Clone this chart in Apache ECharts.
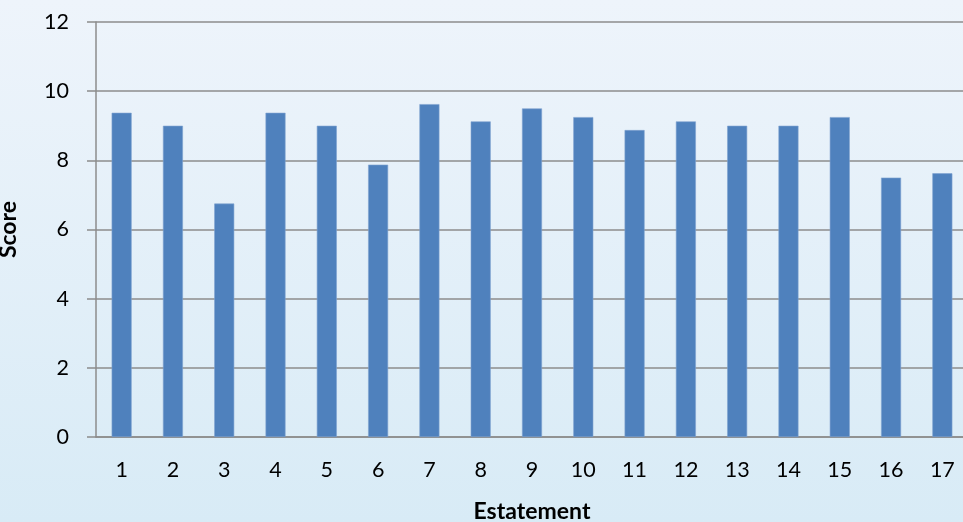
<!DOCTYPE html>
<html><head><meta charset="utf-8">
<script src="https://cdn.jsdelivr.net/npm/echarts@6/dist/echarts.min.js"></script>
<style>html,body{margin:0;padding:0;}#c{width:963px;height:522px;}</style>
</head><body><div id="c"></div>
<script>
const categories = ['1','2','3','4','5','6','7','8','9','10','11','12','13','14','15','16','17'];
const scores = [9.375, 9, 6.75, 9.375, 9, 7.875, 9.625, 9.125, 9.5, 9.25, 8.875, 9.125, 9, 9, 9.25, 7.5, 7.625];
const yTicks = [0, 2, 4, 6, 8, 10, 12];
const xTitle = 'Estatement';
const yTitle = 'Score';

const chart = echarts.init(document.getElementById('c'));
const font = 'Lato, "Open Sans", sans-serif';
chart.setOption({
  backgroundColor: new echarts.graphic.LinearGradient(0, 0, 0, 1, [
    {offset: 0, color: '#EEF4FB'},
    {offset: 1, color: '#D8EBF6'}
  ]),
  animation: false,
  grid: {left: 96, top: 22, width: 872, height: 415, containLabel: false, outerBoundsMode: 'none'},
  xAxis: {
    type: 'category',
    data: categories,
    name: xTitle,
    nameLocation: 'middle',
    nameGap: 63,
    nameTextStyle: {fontFamily: font, fontSize: 23, fontWeight: 'bold', color: '#000'},
    axisLine: {lineStyle: {color: '#8C8C8C', width: 1.5}},
    axisTick: {show: false},
    axisLabel: {fontFamily: font, fontSize: 21.5, color: '#000', margin: 22}
  },
  yAxis: {
    type: 'value',
    min: yTicks[0],
    max: yTicks[yTicks.length - 1],
    interval: 2,
    name: yTitle,
    nameLocation: 'middle',
    nameGap: 76,
    nameTextStyle: {fontFamily: font, fontSize: 23, fontWeight: 'bold', color: '#000'},
    axisLine: {show: true, lineStyle: {color: '#8C8C8C', width: 1.5}},
    axisTick: {show: true, length: 9, lineStyle: {color: '#8C8C8C', width: 1.5}},
    axisLabel: {fontFamily: font, fontSize: 21.5, color: '#000', margin: 27},
    splitLine: {lineStyle: {color: '#8C8C8C', width: 1.5}}
  },
  series: [{
    type: 'bar',
    data: scores,
    barWidth: 20,
    itemStyle: {color: '#4F81BD', borderColor: '#7FA3D0', borderWidth: 0.6}
  }]
});
</script></body></html>
